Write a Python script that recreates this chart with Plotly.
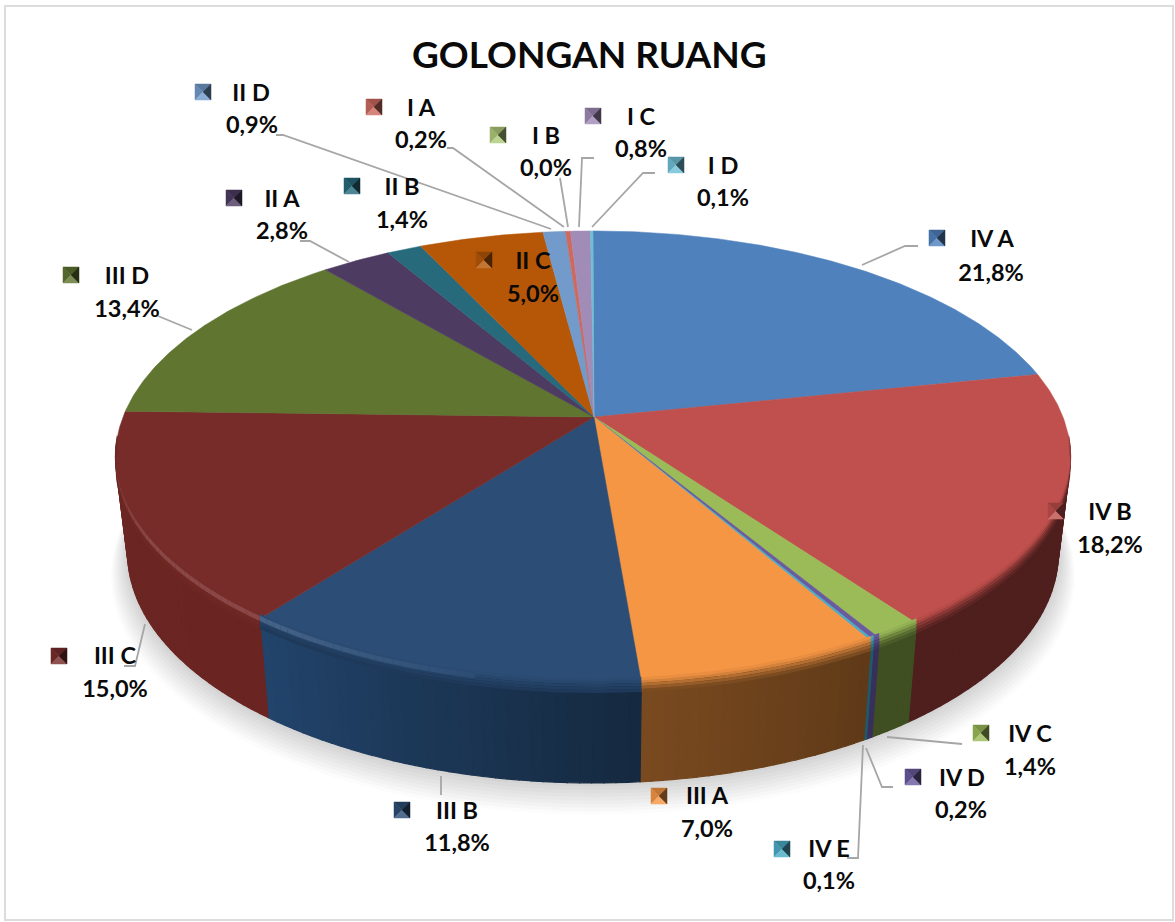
import math
import plotly.graph_objects as go

# ---- data ----
CATEGORIES = ["IV A", "IV B", "IV C", "IV D", "IV E", "III A", "III B", "III C", "III D",
              "II A", "II B", "II C", "II D", "I A", "I B", "I C", "I D"]
VALUES = [21.8, 18.2, 1.4, 0.2, 0.1, 7.0, 11.8, 15.0, 13.4, 2.8, 1.4, 5.0, 0.9, 0.2, 0.0, 0.8, 0.1]
TITLE = "GOLONGAN RUANG"

# ---- styles ----
TOP_COLORS = ["#4f81bd", "#c0504d", "#9bbb59", "#6a5a9e", "#4bacc6", "#f59645", "#2c4d75", "#772c2a",
              "#5f7530", "#4d3b62", "#276a7c", "#b65708", "#729aca", "#cd6a60", "#afc97a", "#a18bb7", "#6fbfd6"]
WALL_START = {"IV B": "#4f1f1e", "IV C": "#3f4f22", "IV D": "#38305a", "IV E": "#1f5a6a",
              "III A": "#5f3a18", "III B": "#15293f", "III C": "#6a2522", "III D": "#4a5a24"}
WALL_END = {"IV B": "#4f1f1e", "IV C": "#3f4f22", "IV D": "#38305a", "IV E": "#1f5a6a",
            "III A": "#7a4a20", "III B": "#22446c", "III C": "#6c2623", "III D": "#4a5a24"}
TEXT_COLOR = "#0a0a0a"
LINE_COLOR = "#a6a6a6"
FONT = "Lato, Carlito, 'Open Sans', sans-serif"

# ---- layout: pixel frame and perspective of the pie ----
W, H = 1175, 922
APEX = (594, 417)
TOP = dict(x0=593, y0=417, a=470, b=219, p=0.177)
BOT = dict(x0=593, y0=512, a=458, b=223, p=0.177)

# key centre, name centre, percent centre
LABEL_POS = {
    "IV A": ((937, 238), (992, 241), (991, 275)),
    "IV B": ((1056, 511), (1110, 514), (1110, 547)),
    "IV C": ((981, 733), (1030, 736), (1030, 769)),
    "IV D": ((913, 777), (962, 780), (961, 812)),
    "IV E": ((782, 849), (829, 851), (829, 883)),
    "III A": ((659, 796), (707, 798), (707, 831)),
    "III B": ((402, 810), (457, 813), (457, 845)),
    "III C": ((59, 656), (115, 658), (115, 691)),
    "III D": ((71, 275), (127, 278), (127, 311)),
    "II A": ((234, 198), (282, 201), (282, 233)),
    "II B": ((352, 186), (402, 189), (402, 222)),
    "II C": ((484, 260), (533, 263), (533, 296)),
    "II D": ((203, 92), (251, 95), (252, 127)),
    "I A": ((374, 107), (421, 110), (421, 142)),
    "I B": ((498, 135), (546, 138), (546, 170)),
    "I C": ((593, 116), (641, 119), (641, 151)),
    "I D": ((676, 165), (723, 168), (723, 200)),
}
LEADERS = [
    [(862, 265), (905, 246), (918, 246)],
    [(887, 737), (962, 744)],
    [(866, 748), (882, 787), (893, 787)],
    [(863, 745), (858, 858), (847, 858)],
    [(441, 776), (441, 795)],
    [(145, 624), (135, 666), (124, 666)],
    [(192, 330), (158, 316)],
    [(349, 262), (310, 241), (300, 241)],
    [(276, 135), (283, 135), (551, 229)],
    [(447, 148), (453, 148), (564, 227)],
    [(560, 178), (568, 227)],
    [(579, 227), (582, 158), (594, 158)],
    [(592, 227), (643, 173), (655, 173)],
]


def rgb(h):
    return tuple(int(h[i:i + 2], 16) for i in (1, 3, 5))


def mix(a, b, f):
    ca, cb = rgb(a), rgb(b)
    return "#%02x%02x%02x" % tuple(round(ca[i] + (cb[i] - ca[i]) * f) for i in range(3))


def rim(g, deg, dy=0.0, scale=1.0):
    t = math.radians(deg)
    s, c = math.sin(t), math.cos(t)
    d = 1 + g["p"] * c
    return (g["x0"] + scale * g["a"] * s / d, g["y0"] - scale * g["b"] * c / d + dy)


def arc(start, end, step=1.0):
    n = max(1, int(math.ceil((end - start) / step)))
    return [start + (end - start) * i / n for i in range(n + 1)]


fig = go.Figure()


def poly(points, color, edge=0.6):
    xs = [p[0] for p in points] + [points[0][0]]
    ys = [p[1] for p in points] + [points[0][1]]
    fig.add_trace(go.Scatter(x=xs, y=ys, mode="lines", fill="toself", fillcolor=color,
                             line=dict(color=color, width=edge), hoverinfo="skip", showlegend=False))


def path(points, color=LINE_COLOR, width=1.8):
    fig.add_trace(go.Scatter(x=[p[0] for p in points], y=[p[1] for p in points], mode="lines",
                             line=dict(color=color, width=width), hoverinfo="skip", showlegend=False))


# slice angles (clockwise from the top)
total = sum(VALUES)
angles = []
cum = 0.0
for v in VALUES:
    angles.append((cum / total * 360, (cum + v) / total * 360))
    cum += v

# soft shadow under the pie
N_SHADOW = 10
for i in range(N_SHADOW):
    k = 1 - i / (N_SHADOW - 1)
    col = mix("#cfcfcf", "#fcfcfc", k)
    poly([rim(BOT, a, dy=22 * k, scale=1 + 0.036 * k) for a in arc(0, 360, 3)], col, 0)

# side wall
VIS_START, VIS_END = 95.0, 265.0
for cat, (a0, a1), top in zip(CATEGORIES, angles, TOP_COLORS):
    lo, hi = max(a0, VIS_START), min(a1, VIS_END)
    if hi <= lo:
        continue
    c0, c1 = WALL_START.get(cat, top), WALL_END.get(cat, top)
    grid = arc(lo, hi, 1.25)
    for g0, g1 in zip(grid[:-1], grid[1:]):
        f = ((g0 + g1) / 2 - a0) / max(a1 - a0, 1e-6)
        col = mix(c0, c1, f)
        pts = [rim(TOP, a) for a in (g0, g1)] + [rim(BOT, a) for a in (g1, g0)]
        poly(pts, col, 1.2)

# top face
for cat, (a0, a1), top in zip(CATEGORIES, angles, TOP_COLORS):
    if a1 <= a0:
        continue
    poly([APEX] + [rim(TOP, a) for a in arc(a0, a1, 0.5)], top, 0.5)

# soft blend between top face and wall
BLEND = [(-5, -2, 0.08), (-2, 1, 0.25), (1, 4, 0.48), (4, 7, 0.7), (7, 10, 0.88)]
for cat, (a0, a1), top in zip(CATEGORIES, angles, TOP_COLORS):
    lo, hi = max(a0, VIS_START), min(a1, VIS_END)
    if hi <= lo:
        continue
    wall = mix(WALL_START.get(cat, top), WALL_END.get(cat, top), 0.5)
    grid = arc(lo, hi, 0.8)
    for d0, d1, f in BLEND:
        poly([rim(TOP, a, dy=d0) for a in grid] + [rim(TOP, a, dy=d1) for a in grid][::-1], mix(top, wall, f), 0)

# light bevel along the left rim
for cat, (a0, a1), top in zip(CATEGORIES, angles, TOP_COLORS):
    lo, hi = max(a0, 192.0), min(a1, 262.0)
    if hi <= lo or cat not in ("III B", "III C"):
        continue
    grid = arc(lo, hi, 1.0)
    for g0, g1 in zip(grid[:-1], grid[1:]):
        amt = max(0.0, min(1.0, ((g0 + g1) / 2 - 192.0) / 26.0)) * max(0.0, min(1.0, (262.0 - g1) / 22.0))
        pts = [rim(TOP, a, dy=-3) for a in (g0, g1)] + [rim(TOP, a, dy=2) for a in (g1, g0)]
        poly(pts, mix(top, "#ffffff", 0.13 * amt), 0)

# leader lines
for seg in LEADERS:
    path(seg)

# bevelled legend keys
KEY = 8
for cat, top in zip(CATEGORIES, TOP_COLORS):
    (kx, ky), _, _ = LABEL_POS[cat]
    tl, tr, br, bl = (kx - KEY, ky - KEY), (kx + KEY, ky - KEY), (kx + KEY, ky + KEY), (kx - KEY, ky + KEY)
    mid = (kx, ky)
    poly([tl, tr, mid], mix(top, "#000000", 0.22), 0.5)
    poly([tl, bl, mid], mix(top, "#000000", 0.12), 0.5)
    poly([bl, br, mid], mix(top, "#ffffff", 0.18), 0.5)
    poly([tr, br, mid], mix(top, "#000000", 0.6), 0.5)

# texts
names_x, names_y, names_t = [], [], []
pct_x, pct_y, pct_t = [], [], []
for cat, v in zip(CATEGORIES, VALUES):
    _, (nx, ny), (px, py) = LABEL_POS[cat]
    names_x.append(nx); names_y.append(ny); names_t.append(cat)
    pct_x.append(px); pct_y.append(py); pct_t.append(f"{v:.1f}%".replace(".", ","))
fig.add_trace(go.Scatter(x=names_x + pct_x, y=names_y + pct_y, text=names_t + pct_t, mode="text",
                         textposition="middle center",
                         textfont=dict(family=FONT, size=23.5, color=TEXT_COLOR, weight="bold"),
                         hoverinfo="skip", showlegend=False))

fig.add_annotation(x=589, y=53, text=f"<b>{TITLE}</b>", showarrow=False, xref="x", yref="y",
                   font=dict(family=FONT, size=37, color=TEXT_COLOR))

fig.add_shape(type="rect", x0=5, y0=6, x1=1173, y1=920, xref="x", yref="y", layer="below",
              line=dict(color="#dcdcdc", width=2), fillcolor="#ffffff")

fig.update_layout(width=W, height=H, margin=dict(l=0, r=0, t=0, b=0),
                  paper_bgcolor="#ffffff", plot_bgcolor="#ffffff", showlegend=False,
                  xaxis=dict(range=[0, W], visible=False, fixedrange=True),
                  yaxis=dict(range=[H, 0], visible=False, fixedrange=True))

fig.write_html("out.html", config={"displayModeBar": False},
               post_script="document.body.style.margin='0';document.body.style.overflow='hidden';")
